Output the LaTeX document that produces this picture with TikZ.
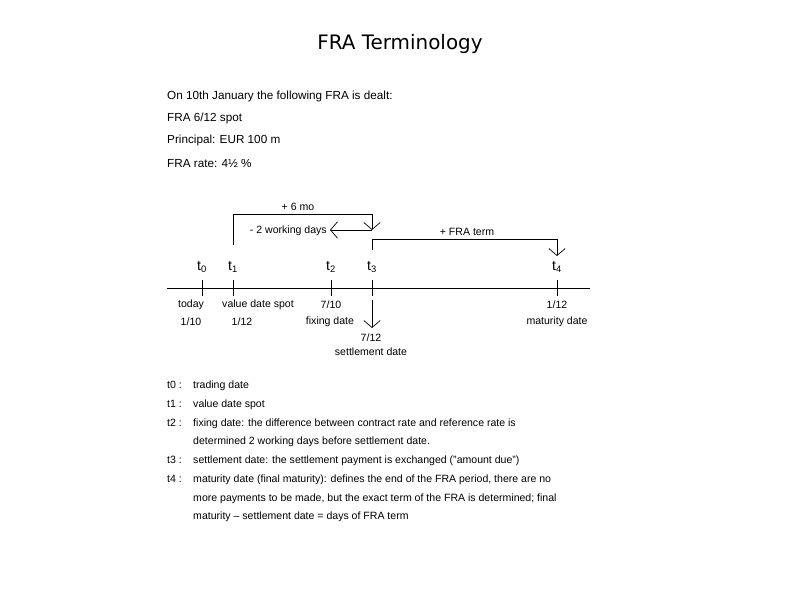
\documentclass[tikz,border=0pt]{standalone}
\usepackage{fontspec}
\setmainfont{Liberation Sans}
\newfontfamily\titlefont{DejaVu Sans}
\usetikzlibrary{arrows.meta}
\tikzset{
	tick/.style={draw, line width=0.6pt},
	timelbl/.style={font=\fontsize{12}{12}\selectfont, inner sep=0pt},
	datelbl/.style={font=\fontsize{9}{9}\selectfont, inner sep=0pt},
	headtxt/.style={font=\fontsize{10}{11}\selectfont, anchor=west, inner sep=0pt},
	legtxt/.style={font=\fontsize{9}{9}\selectfont, anchor=base west, inner sep=0pt},
	barb/.style={-{Straight Barb[length=6pt,width=14pt]}, line width=0.6pt}
}
\begin{document}
\begin{tikzpicture}[x=0.03cm, y=-0.03cm]
			\useasboundingbox (0,0) rectangle (800,600);

			% title
			\node[font=\titlefont\fontsize{17}{17}\selectfont] (title) at (400,44) {FRA Terminology};

			% deal details
			\node[headtxt] (deal) at (167,96) {On 10th January the following FRA is dealt:};
			\node[headtxt] (spot) at (167,118) {FRA 6/12 spot};
			\node[headtxt] (principal) at (167,140) {Principal: EUR 100 m};
			\node[headtxt] (rate) at (167,163) {FRA rate: 4\textonehalf{} \%};

			% time axis
			\coordinate (axl) at (167,288);
			\coordinate (axr) at (590,288);
			\draw[line width=0.6pt] (axl) -- (axr);
			\foreach \name/\x in {t0/202, t1/233, t2/331, t3/372, t4/557}{
				\coordinate (\name) at (\x,288);
				\draw[tick] (\x,280) -- (\x,296);
			}

			% time labels
			\node[timelbl] (l0) at (202,267) {t\textsubscript{0}};
			\node[timelbl] (l1) at (233,267) {t\textsubscript{1}};
			\node[timelbl] (l2) at (331,267) {t\textsubscript{2}};
			\node[timelbl] (l3) at (372,267) {t\textsubscript{3}};
			\node[timelbl] (l4) at (557,267) {t\textsubscript{4}};

			% dates below the axis
			\node[datelbl] (today) at (191,305) {today};
			\node[datelbl] (d0) at (191,322) {1/10};
			\node[datelbl] (valspot) at (258,305) {value date spot};
			\node[datelbl] (d1) at (242,322) {1/12};
			\node[datelbl] (d2) at (331,305) {7/10};
			\node[datelbl] (fixing) at (330,322) {fixing date};
			\node[datelbl] (d3) at (371,338) {7/12};
			\node[datelbl] (settle) at (371,352) {settlement date};
			\node[datelbl] (d4) at (557,305) {1/12};
			\node[datelbl] (maturity) at (557,322) {maturity date};

			% settlement arrow
			\coordinate (sa) at (372,300);
			\coordinate (sb) at (372,328);
			\draw[barb] (sa) -- (sb);

			% + 6 mo
			\coordinate (m0) at (233,245);
			\coordinate (m1) at (372,230);
			\draw[barb] (m0) |- (372,214) -- (m1);
			\node[datelbl] (sixmo) at (298,207) {+ 6 mo};

			% - 2 working days
			\coordinate (w1) at (330,230);
			\draw[barb] (m1) -- (w1);
			\node[datelbl, anchor=east] (work) at (327,231) {- 2 working days};

			% + FRA term
			\coordinate (f0) at (372,250);
			\coordinate (f1) at (557,256);
			\draw[barb] (f0) |- (557,239) -- (f1);
			\node[datelbl] (term) at (467,232) {+ FRA term};

			% legend
			\node[legtxt] (k0) at (167,389) {t0 :};
			\node[legtxt] (e0) at (193,389) {trading date};
			\node[legtxt] (k1) at (167,408) {t1 :};
			\node[legtxt] (e1) at (193,408) {value date spot};
			\node[legtxt] (k2) at (167,427) {t2 :};
			\node[legtxt] (e2) at (193,427) {fixing date: the difference between contract rate and reference rate is};
			\node[legtxt] (e2b) at (193,445) {determined 2 working days before settlement date.};
			\node[legtxt] (k3) at (167,464) {t3 :};
			\node[legtxt] (e3) at (193,464) {settlement date: the settlement payment is exchanged ("amount due")};
			\node[legtxt] (k4) at (167,483) {t4 :};
			\node[legtxt] (e4) at (193,483) {maturity date (final maturity): defines the end of the FRA period, there are no};
			\node[legtxt] (e4b) at (193,502) {more payments to be made, but the exact term of the FRA is determined; final};
			\node[legtxt] (e4c) at (193,520) {maturity -- settlement date = days of FRA term};
		\end{tikzpicture}
\end{document}
